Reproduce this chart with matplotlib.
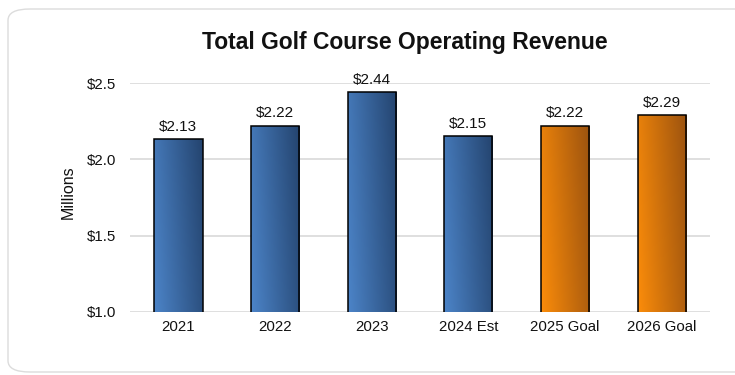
import matplotlib
matplotlib.use("Agg")
import matplotlib.pyplot as plt
import numpy as np
from matplotlib.patches import FancyBboxPatch
from matplotlib.colors import LinearSegmentedColormap

plt.rcParams['font.family'] = ['Liberation Sans', 'DejaVu Sans']

categories = ["2021", "2022", "2023", "2024 Est", "2025 Goal", "2026 Goal"]
revenue = [2.13, 2.22, 2.44, 2.15, 2.22, 2.29]
is_goal = [False, False, False, False, True, True]
y_ticks = [1.0, 1.5, 2.0, 2.5]

blue_cmap = LinearSegmentedColormap.from_list("blue", ["#4c84c8", "#24446f"])
orange_cmap = LinearSegmentedColormap.from_list("orange", ["#fb8c0a", "#9c530f"])

fig = plt.figure(figsize=(7.35, 3.75), dpi=100)
fig.patch.set_facecolor("white")

# Rounded card behind the chart
card = FancyBboxPatch((8 / 735, 3 / 375), 760 / 735, 363 / 375,
                      boxstyle="round,pad=0,rounding_size=0.03",
                      transform=fig.transFigure, facecolor="white",
                      edgecolor="#dcdcdc", linewidth=1.0, zorder=-5)
fig.patches.append(card)

ax = fig.add_axes([130 / 735, 1 - 312 / 375, 580 / 735, (312 - 83) / 375])
ax.set_facecolor("none")

x = np.arange(len(categories))
width = 0.5
bars = ax.bar(x, revenue, width=width, bottom=0, facecolor="none",
              edgecolor="black", linewidth=1.1, zorder=3)

# Diagonal gradient fill, lighter at lower left, darker at upper right
gx, gy = np.meshgrid(np.linspace(0, 1, 60), np.linspace(0, 1, 200))
grad = 0.8 * gx + 0.2 * (1 - gy)
for bar, goal in zip(bars, is_goal):
    x0 = bar.get_x()
    x1 = x0 + bar.get_width()
    top = bar.get_height()
    im = ax.imshow(grad, cmap=orange_cmap if goal else blue_cmap,
                   extent=[x0, x1, 1.0, top], origin="upper",
                   aspect="auto", zorder=2, vmin=0, vmax=1)
    im.set_clip_path(bar)

for xi, v in zip(x, revenue):
    ax.annotate(f"${v:.2f}", (xi, v), xytext=(0, 4), textcoords="offset points",
                ha="center", va="bottom", fontsize=11, color="#111111", zorder=4)

ax.set_xlim(-0.5, len(categories) - 0.5)
ax.set_ylim(1.0, 2.5)
ax.set_yticks(y_ticks)
ax.set_yticklabels([f"${t:.1f}" for t in y_ticks])
ax.set_xticks(x)
ax.set_xticklabels(categories)
ax.tick_params(axis="both", length=0, labelsize=10.8, colors="#111111")
ax.tick_params(axis="y", pad=10)
ax.tick_params(axis="x", pad=6)
ax.grid(axis="y", color="#d9d9d9", linewidth=1.2, zorder=1)
ax.set_axisbelow(True)
for s in ax.spines.values():
    s.set_visible(False)

fig.text(68 / 735, 1 - 192 / 375, "Millions", rotation=90,
         ha="center", va="center", fontsize=11.5, color="#111111")

fig.text(405 / 735, 1 - 42 / 375, "Total Golf Course Operating Revenue",
         ha="center", va="center", fontsize=16.5, fontweight="bold", color="#111111")

fig.savefig("out.png", dpi=100)
